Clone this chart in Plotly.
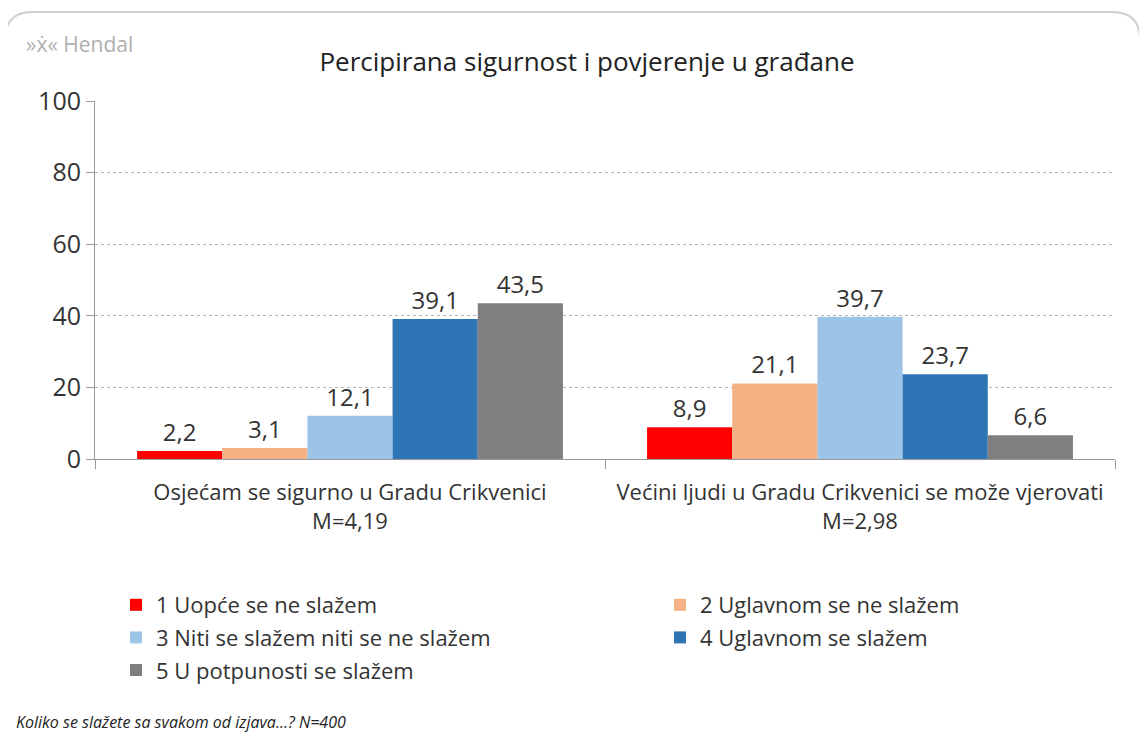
import plotly.graph_objects as go

categories = ["Osjećam se sigurno u Gradu Crikvenici<br>M=4,19",
              "Većini ljudi u Gradu Crikvenici se može vjerovati<br>M=2,98"]
series_names = ["1 Uopće se ne slažem", "2 Uglavnom se ne slažem",
                "3 Niti se slažem niti se ne slažem", "4 Uglavnom se slažem",
                "5 U potpunosti se slažem"]
s1 = [2.2, 8.9]
s2 = [3.1, 21.1]
s3 = [12.1, 39.7]
s4 = [39.1, 23.7]
s5 = [43.5, 6.6]
series_values = [s1, s2, s3, s4, s5]
colors = ["#ff0000", "#f4b183", "#9dc3e6", "#2e75b6", "#7f7f7f"]
legend_column = ["legend", "legend2", "legend", "legend2", "legend"]
y_ticks = [0, 20, 40, 60, 80, 100]

FONT = "Open Sans"
fig = go.Figure()
for i, (name, vals, col, lg) in enumerate(zip(series_names, series_values, colors, legend_column)):
    fig.add_trace(go.Bar(
        x=categories, y=vals, name=name, marker_color=col, marker_line_width=0,
        text=[f"{v:.1f}".replace(".", ",") for v in vals],
        textposition="outside", cliponaxis=False, legend=lg, legendgroup=f"g{i}",
        textfont=dict(size=24, color="#333", family=FONT),
    ))

W, H = 1147, 740
OFF = 8  # page body margin
ML, MR, MT, MB = 2, 2, 93, 2
pw, ph = W - ML - MR, H - MT - MB
def px(x): return (x - OFF - ML) / pw
def py(y): return (H - MB - (y - OFF)) / ph

# plot area in screen pixels
PL, PR, PT, PB = 95, 1115, 101, 459

# rounded border
x0, x1, y0, y1, r = 5, 1140, 12, 760, 28
path = (f"M {px(x0)} {py(y0 + r)} Q {px(x0)} {py(y0)} {px(x0 + r)} {py(y0)} "
        f"L {px(x1 - r)} {py(y0)} Q {px(x1)} {py(y0)} {px(x1)} {py(y0 + r)} "
        f"L {px(x1)} {py(y1)} M {px(x0)} {py(y0 + r)} L {px(x0)} {py(y1)}")

leg_common = dict(orientation="v", yanchor="top", xanchor="left", tracegroupgap=1,
                  font=dict(size=22, family=FONT, color="#333"), itemwidth=30,
                  bgcolor="rgba(0,0,0,0)")

fig.update_layout(
    width=W, height=H, margin=dict(l=ML, r=MR, t=MT, b=MB, autoexpand=False),
    paper_bgcolor="white", plot_bgcolor="white",
    barmode="group", bargap=0.165, bargroupgap=0,
    font=dict(family=FONT, color="#333"),
    title=dict(text="Percipirana sigurnost i povjerenje u građane", x=px(587), xanchor="center",
               y=1 - (62 - OFF) / H, yanchor="middle",
               font=dict(size=26, family=FONT, color="#222")),
    xaxis=dict(domain=[px(PL), px(PR)], showline=True, linecolor="#999", linewidth=1,
               ticks="outside", tickson="boundaries", ticklen=9, tickcolor="#999",
               automargin=False, ticklabelstandoff=14,
               tickfont=dict(size=22, family=FONT, color="#333")),
    yaxis=dict(domain=[py(PB), py(PT)], range=[0, 100], tickvals=y_ticks, showline=True,
               linecolor="#999", ticks="outside", ticklen=8, tickcolor="#999",
               showgrid=True, gridcolor="#b5b5b5", griddash="dot", gridwidth=1,
               automargin=False,
               tickfont=dict(size=25, family=FONT, color="#333"), zeroline=False),
    legend=dict(x=px(116), y=py(584), **leg_common),
    legend2=dict(x=px(660), y=py(584), **leg_common),
    shapes=[dict(type="path", xref="paper", yref="paper", path=path,
                 line=dict(color="#cfcfcf", width=2), layer="below")],
    annotations=[
        dict(text="»ẋ« Hendal", xref="paper", yref="paper", x=px(24), y=py(44),
             xanchor="left", yanchor="middle", showarrow=False,
             font=dict(size=21, family=FONT, color="#b0b0b0")),
        dict(text="<i>Koliko se slažete sa svakom od izjava...? N=400</i>", xref="paper",
             yref="paper", x=px(14), y=py(722), xanchor="left", yanchor="middle",
             showarrow=False, font=dict(size=16, family=FONT, color="#222")),
    ],
)
fig.write_html("out.html")
